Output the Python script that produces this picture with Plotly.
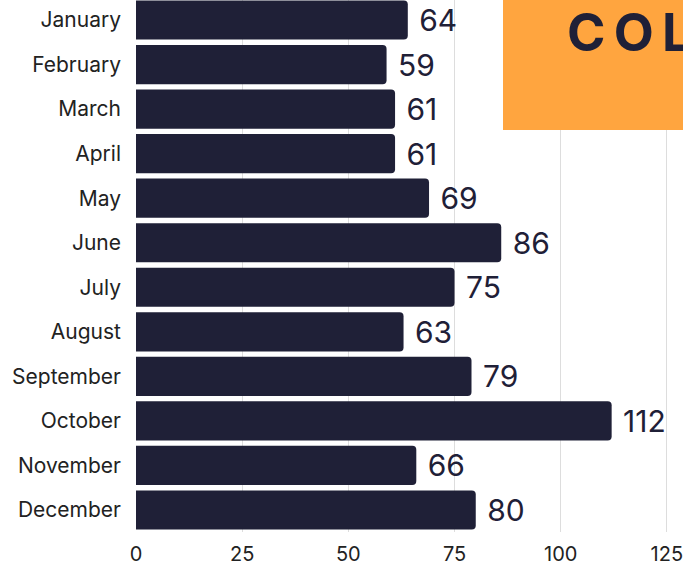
import plotly.graph_objects as go

months = ["January", "February", "March", "April", "May", "June", "July",
          "August", "September", "October", "November", "December"]
values = [64, 59, 61, 61, 69, 86, 75, 63, 79, 112, 66, 80]
x_ticks = [0, 25, 50, 75, 100, 125]
title_text = "C\u2009O\u2009L"

navy = "#1f2037"
orange = "#FFA53F"

fig = go.Figure(go.Bar(
    x=values, y=months, orientation="h",
    marker=dict(color=navy, line=dict(width=0)),
    text=values, texttemplate=" %{x}", textposition="outside",
    textfont=dict(size=30, color=navy, family="Inter"),
    cliponaxis=False,
))

fig.add_shape(type="rect", xref="paper", yref="paper",
              x0=(503 - 136) / 547, x1=1.3, y0=1 - 130 / 532, y1=1.05,
              fillcolor=orange, line=dict(width=0), layer="above")
fig.add_annotation(xref="paper", yref="paper", x=(565 - 136) / 547, y=1 - 32 / 532,
                   xanchor="left", yanchor="middle", showarrow=False,
                   text="<b>" + title_text + "</b>",
                   font=dict(size=52, color=navy, family="Inter"))

fig.update_layout(
    width=683, height=570,
    margin=dict(l=136, r=0, t=0, b=38, autoexpand=False),
    plot_bgcolor="white", paper_bgcolor="white",
    bargap=0.12, barcornerradius=4,
    showlegend=False,
    font=dict(family="Inter", color="#222222"),
    xaxis=dict(range=[0, 128.8], tickvals=x_ticks, showgrid=True,
               gridcolor="#dddddd", gridwidth=1, zeroline=False, automargin=False,
               ticklabeloverflow="allow", ticklabelstandoff=8,
               tickfont=dict(size=20, color="#222222"), ticks=""),
    yaxis=dict(range=[11.494, -0.449], tickfont=dict(size=21, color="#222222"),
               ticks="", ticklabelstandoff=14, showgrid=False, automargin=False),
)

fig.write_html("out.html", config={"displayModeBar": False},
               post_script="document.body.style.margin='0';document.body.style.overflow='hidden';")
